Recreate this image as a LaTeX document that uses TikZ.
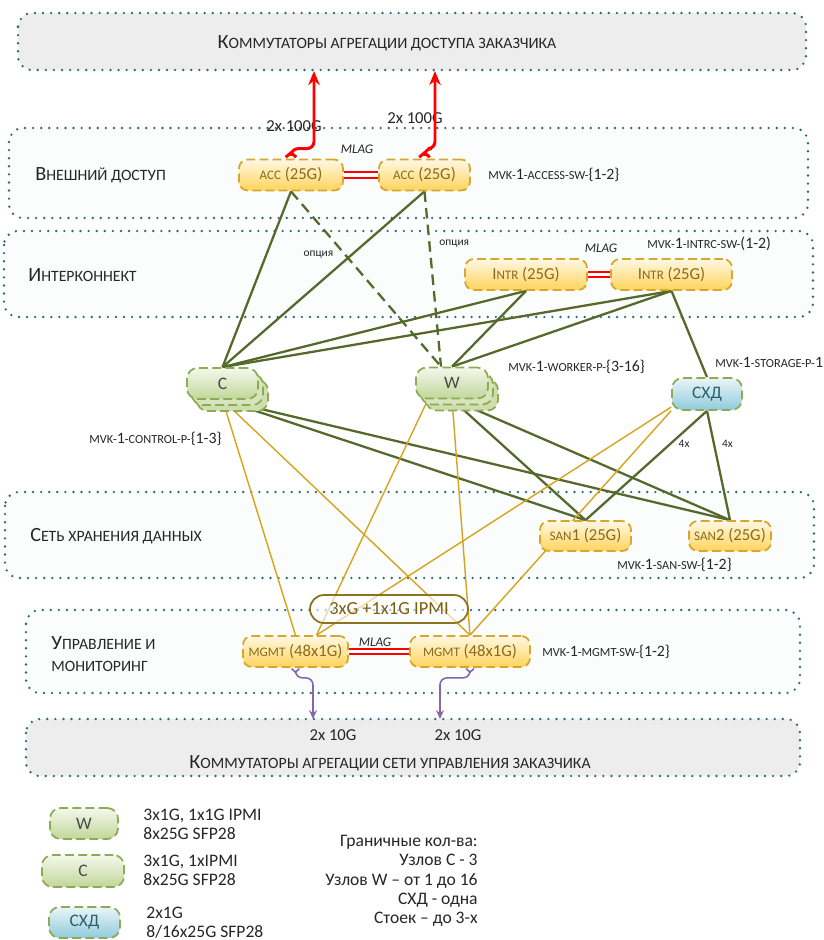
\documentclass[tikz,border=0pt]{standalone}
\usepackage{fontspec}
\usepackage{graphicx}
\setmainfont{Carlito}
\usetikzlibrary{arrows.meta,shadows,calc}

\definecolor{secdot}{HTML}{2F6B74}
\definecolor{secfill}{HTML}{FBFDFD}
\definecolor{custgray}{HTML}{EDEDED}
\definecolor{swtop}{HTML}{FFF8E3}
\definecolor{swbot}{HTML}{FFD45C}
\definecolor{swline}{HTML}{D6A72C}
\definecolor{swtext}{HTML}{8A6A1A}
\definecolor{srvtop}{HTML}{F4F8EC}
\definecolor{srvbot}{HTML}{C2D69A}
\definecolor{srvline}{HTML}{8EAA52}
\definecolor{srvtext}{HTML}{4A4A4A}
\definecolor{stotop}{HTML}{EAF5F8}
\definecolor{stobot}{HTML}{8FCBDB}
\definecolor{stotext}{HTML}{2C5F6E}
\definecolor{trunkcol}{HTML}{56692C}
\definecolor{wirecol}{HTML}{D6A31C}
\definecolor{downcol}{HTML}{8567A8}
\definecolor{pillline}{HTML}{8B7322}
\definecolor{pilltext}{HTML}{7A5F12}
\definecolor{txt}{HTML}{262626}

% fake small caps
\newcommand{\smc}[1]{\scalebox{0.78}{#1}}

\pgfdeclarelayer{areas}
\pgfdeclarelayer{links}
\pgfsetlayers{areas,links,main}

\tikzset{
  area/.style={draw=secdot, line width=1.5pt, dash pattern=on 0pt off 4.6pt, line cap=round, rounded corners=8pt, fill=secfill},
  custarea/.style={area, fill=custgray},
  arealbl/.style={font=\fontsize{11.5}{13}\selectfont, text=txt, inner sep=0pt},
  hostlbl/.style={font=\fontsize{9}{11}\selectfont, text=txt, anchor=west, inner sep=0pt},
  speedlbl/.style={font=\fontsize{9.5}{11}\selectfont, text=txt, inner sep=0pt},
  mlaglbl/.style={font=\fontsize{7.5}{9}\selectfont\itshape, text=txt, inner sep=0pt},
  smalllbl/.style={font=\fontsize{6.5}{8}\selectfont, text=txt, inner sep=1pt},
  legtxt/.style={font=\fontsize{10}{10.8}\selectfont, text=txt, inner sep=0pt},
  sw/.style={draw=swline, line width=1pt, dash pattern=on 5pt off 2.5pt, rounded corners=5pt,
    top color=swtop, bottom color=swbot, text=swtext, font=\fontsize{9.5}{11}\selectfont,
    minimum height=0.62cm, inner sep=0pt},
  srv/.style={draw=srvline, line width=1pt, dash pattern=on 5pt off 2.5pt, rounded corners=6pt,
    top color=srvtop, bottom color=srvbot, text=srvtext, font=\fontsize{10}{12}\selectfont,
    minimum height=0.62cm, inner sep=0pt},
  srvstack/.style={srv,
    copy shadow={shadow xshift=0.2cm, shadow yshift=-0.24cm, opacity=1, draw=srvline, line width=1pt,
      dash pattern=on 5pt off 2.5pt, fill=srvbot!80!white},
    copy shadow={shadow xshift=0.1cm, shadow yshift=-0.12cm, opacity=1, draw=srvline, line width=1pt,
      dash pattern=on 5pt off 2.5pt, fill=srvbot!65!white}},
  sto/.style={srv, top color=stotop, bottom color=stobot, text=stotext},
  pill/.style={draw=pillline, line width=1pt, rounded corners=8pt, fill=white, fill opacity=.6, text opacity=1,
    text=pilltext, font=\fontsize{10.5}{12}\selectfont, minimum width=3.16cm, minimum height=0.56cm},
  trunk/.style={draw=trunkcol, line width=1.3pt},
  optlink/.style={trunk, dash pattern=on 6pt off 3.5pt},
  wire/.style={draw=wirecol, line width=0.8pt},
  mlag/.style={draw=red, line width=1.1pt, double=white, double distance=1.8pt},
  uplink/.style={draw=red, line width=1.7pt, rounded corners=4pt,
    arrows={Straight Barb[reversed,length=2.5pt,width=6pt]-Stealth[length=8pt,width=6.5pt]}},
  downlink/.style={draw=downcol, line width=0.9pt, rounded corners=4pt,
    arrows={Straight Barb[reversed,length=2pt,width=4.5pt]-Stealth[length=5pt,width=4.5pt]}}
}

\begin{document}
\begin{tikzpicture}[x=0.02cm, y=-0.02cm]
  \useasboundingbox (0,0) rectangle (824,940);

  % areas
  \begin{pgfonlayer}{areas}
    \draw[custarea] (18,13) rectangle (806,70);
    \draw[area] (9,128) rectangle (808,218);
    \draw[area] (4,231) rectangle (813,317);
    \draw[area] (5,492) rectangle (814,578);
    \draw[area] (26,610) rectangle (800,693);
    \draw[custarea] (26,719) rectangle (800,776);
  \end{pgfonlayer}

  \node[arealbl] (custtop) at (387,43) {К\smc{ОММУТАТОРЫ АГРЕГАЦИИ ДОСТУПА ЗАКАЗЧИКА}};
  \node[arealbl, anchor=west] (extlbl) at (35,175) {В\smc{НЕШНИЙ ДОСТУП}};
  \node[arealbl, anchor=west] (intlbl) at (28,275) {И\smc{НТЕРКОННЕКТ}};
  \node[arealbl, anchor=west] (sanlbl) at (30,536) {С\smc{ЕТЬ ХРАНЕНИЯ ДАННЫХ}};
  \node[arealbl, anchor=west, align=left] (mgtlbl) at (51,654) {У\smc{ПРАВЛЕНИЕ И}\\\smc{МОНИТОРИНГ}};
  \node[arealbl] (custbot) at (390,763) {К\smc{ОММУТАТОРЫ АГРЕГАЦИИ СЕТИ УПРАВЛЕНИЯ ЗАКАЗЧИКА}};

  % switches and hosts
  \node[sw, minimum width=2.08cm] (acc1) at (291,175) {\smc{ACC} (25G)};
  \node[sw, minimum width=1.82cm] (acc2) at (424.5,175) {\smc{ACC} (25G)};
  \node[sw, minimum width=2.44cm] (intr1) at (526,274.5) {I\smc{NTR} (25G)};
  \node[sw, minimum width=2.42cm] (intr2) at (671.5,274.5) {I\smc{NTR} (25G)};
  \node[srvstack, minimum width=1.42cm] (ctl) at (222.5,383.5) {C};
  \node[srvstack, minimum width=1.44cm] (wrk) at (452,383) {W};
  \node[sto, minimum width=1.4cm, minimum height=0.64cm] (sxd) at (707,394) {СХД};
  \node[sw, minimum width=1.82cm, minimum height=0.6cm] (san1) at (585.5,536) {\smc{SAN}1 (25G)};
  \node[sw, minimum width=1.64cm, minimum height=0.6cm] (san2) at (730,536) {\smc{SAN}2 (25G)};
  \node[sw, minimum width=2.1cm] (mgmt1) at (295.5,651.5) {\smc{MGMT} (48x1G)};
  \node[sw, minimum width=2.4cm] (mgmt2) at (470,651.5) {\smc{MGMT} (48x1G)};
  \node[pill] (ipmi) at (389,609) {3xG +1x1G IPMI};

  \coordinate (wopt) at ($(wrk.north)+(-11,0)$);
  \coordinate (wlow) at ($(wrk.south)+(-24,0)$);
  \coordinate (m1b) at ($(mgmt1.north)+(21,0)$);
  \coordinate (upA) at (314,71);
  \coordinate (upB) at (435,71);
  \coordinate (dnA) at (313,719);
  \coordinate (dnB) at (440,719);

  % host names
  \node[hostlbl] (accname) at (488,175) {\smc{MVK-}1\smc{-ACCESS-SW-}\{1-2\}};
  \node[hostlbl] (intname) at (647,244) {\smc{MVK-}1\smc{-INTRC-SW-}(1-2)};
  \node[hostlbl] (wrkname) at (508,367) {\smc{MVK-}1\smc{-WORKER-P-}\{3-16\}};
  \node[hostlbl] (stoname) at (715,362) {\smc{MVK-}1\smc{-STORAGE-P-}1};
  \node[hostlbl] (ctlname) at (89,439) {\smc{MVK-}1\smc{-CONTROL-P-}\{1-3\}};
  \node[hostlbl] (sanname) at (617,565) {\smc{MVK-}1\smc{-SAN-SW-}\{1-2\}};
  \node[hostlbl] (mgtname) at (542,652) {\smc{MVK-}1\smc{-MGMT-SW-}\{1-2\}};

  \node[mlaglbl] (mlagA) at (357,149) {MLAG};
  \node[mlaglbl] (mlagB) at (601,248) {MLAG};
  \node[mlaglbl] (mlagC) at (375,642) {MLAG};

  \node[speedlbl] (bwA) at (294,126) {2x 100G};
  \node[speedlbl] (bwB) at (415,118) {2x 100G};
  \node[speedlbl] (bwC) at (333,735) {2x 10G};
  \node[speedlbl] (bwD) at (458,735) {2x 10G};

  % links
  \begin{pgfonlayer}{links}
    \foreach \s in {acc1,acc2,intr1,intr2}
      \draw[trunk] (\s.south) -- (ctl.north);
    \draw[trunk] (intr1.south) -- (wrk.north);
    \draw[trunk] (intr2.south) -- (wrk.north);
    \draw[trunk] (intr2.south) -- (sxd.north);
    \draw[optlink] (acc1.south) -- node[smalllbl, pos=.36, left=5pt] {опция} (wopt);
    \draw[optlink] (acc2.south) -- node[smalllbl, pos=.3, right=4pt] {опция} (wopt);
    \foreach \h in {ctl,wrk} {
      \draw[trunk] (\h.south) -- (san1.north);
      \draw[trunk] (\h.south) -- (san2.north);
    }
    \draw[trunk] (sxd.south) -- node[smalllbl, pos=.3, right=3pt] {4x} (san1.north);
    \draw[trunk] (sxd.south) -- node[smalllbl, pos=.3, right=3pt] {4x} (san2.north);
    \draw[wire] (ctl.south) -- (mgmt1.north);
    \draw[wire] (ctl.south) -- (mgmt2.north);
    \draw[wire] (wlow) -- (m1b);
    \draw[wire] (wrk.south) -- (mgmt2.north);
    \draw[wire] (sxd.200) -- (m1b);
    \draw[wire] (sxd.205) -- (mgmt2.north);
  \end{pgfonlayer}

  \draw[mlag] (acc1.east) -- (acc2.west);
  \draw[mlag] (intr1.east) -- (intr2.west);
  \draw[mlag] (mgmt1.east) -- (mgmt2.west);

  \draw[uplink] (acc1.north) -- ++(0,-10) -| (upA);
  \draw[uplink] (acc2.north) -- ++(0,-10) -| (upB);
  \draw[downlink] (mgmt1.south) -- ++(0,10) -| (dnA);
  \draw[downlink] (mgmt2.south) -- ++(0,10) -| (dnB);

  % legend
  \node[srv, minimum width=1.36cm] (legw) at (84,823.5) {W};
  \node[srv, minimum width=1.64cm, minimum height=0.64cm] (legc) at (83,871) {C};
  \node[sto, minimum width=1.42cm] (legs) at (84.5,922.5) {СХД};
  \node[legtxt, anchor=west, align=left] (legwtxt) at (143,824) {3x1G, 1x1G IPMI\\8x25G SFP28};
  \node[legtxt, anchor=west, align=left] (legctxt) at (143,870.5) {3x1G, 1xIPMI\\8x25G SFP28};
  \node[legtxt, anchor=west, align=left] (legstxt) at (146,922.5) {2x1G\\8/16x25G SFP28};
  \node[legtxt, anchor=east, align=right, font=\fontsize{10}{11}\selectfont] (limits) at (478,881)
    {Граничные кол-ва:\\Узлов С - 3\\Узлов W -- от 1 до 16\\СХД - одна\\Стоек -- до 3-х};
\end{tikzpicture}
\end{document}
